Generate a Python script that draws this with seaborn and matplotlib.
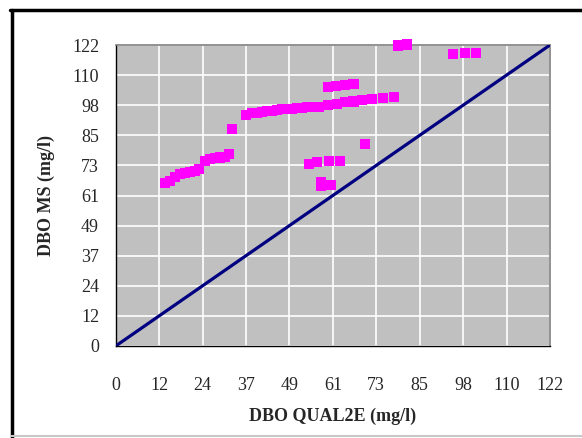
import numpy as np
import matplotlib
matplotlib.use("Agg")
import matplotlib.pyplot as plt
from matplotlib.lines import Line2D
import seaborn as sns
import pandas as pd

# DBO values: QUAL2E model (x) vs MS model (y), mg/l
qual2e = [13.9, 15.3, 16.7, 18.1, 19.5, 20.9, 22.3, 23.5,
          25.1, 26.5, 27.9, 29.3, 30.7, 31.9,
          32.8,
          36.5, 38.2, 39.6, 41.0, 42.4, 43.8, 45.2, 46.6, 48.0, 49.4,
          50.8, 52.2, 53.7, 54.6, 57.1, 59.7, 62.1, 64.4, 66.8, 69.1,
          71.9, 75.0, 78.2,
          59.7, 62.0, 64.3, 66.8,
          54.4, 56.6, 59.9, 63.0,
          57.6, 57.6, 60.5,
          70.0,
          79.4, 81.7,
          94.8, 98.1, 101.2]
ms = [65.9, 67.0, 68.6, 69.7, 70.3, 70.7, 71.1, 71.6,
      75.1, 75.7, 76.1, 76.4, 76.8, 77.8,
      87.8,
      93.6, 94.3, 94.6, 94.9, 95.1, 95.4, 95.7, 95.9, 96.1, 96.2,
      96.4, 96.6, 96.9, 97.0, 97.0, 97.6, 98.1, 98.8, 99.1, 99.7,
      100.0, 100.4, 100.9,
      104.9, 105.2, 105.6, 106.3,
      73.8, 74.5, 75.1, 75.1,
      66.4, 65.0, 65.3,
      81.8,
      121.8, 122.2,
      118.2, 118.9, 118.9]

# 1:1 reference line
line_x = [0, 122]
line_y = [0, 122]

tick_labels = ["0", "12", "24", "37", "49", "61", "73", "85", "98", "110", "122"]
axis_max = 122

sns.set_style("white")
plt.rcParams["font.family"] = ["Liberation Serif", "DejaVu Serif"]

W, H = 582, 438
fig = plt.figure(figsize=(W / 100, H / 100), dpi=100)
ax = fig.add_axes([115.7 / W, 1 - 346 / H, (550 - 115.7) / W, (346 - 45) / H])
ax.set_facecolor("#C0C0C0")

ticks = np.linspace(0, axis_max, len(tick_labels))
ax.set_xlim(0, axis_max)
ax.set_ylim(0, axis_max)
ax.set_xticks(ticks)
ax.set_yticks(ticks)
ax.set_xticklabels(tick_labels)
ax.set_yticklabels(tick_labels)
ax.grid(True, color="white", linewidth=1.2)
ax.set_axisbelow(True)

df = pd.DataFrame({"qual2e": qual2e, "ms": ms})
sns.lineplot(x=line_x, y=line_y, ax=ax, color="#000080", linewidth=2.3, zorder=3)
sns.scatterplot(data=df, x="qual2e", y="ms", ax=ax, marker="s", s=52,
                color="#FF00FF", edgecolor="none", linewidth=0, zorder=4,
                clip_on=False)

for side in ["top", "right"]:
    ax.spines[side].set_color("#808080")
    ax.spines[side].set_linewidth(1.2)
for side in ["left", "bottom"]:
    ax.spines[side].set_color("black")
    ax.spines[side].set_linewidth(1.0)

ax.tick_params(axis="both", direction="out", length=5, width=1, color="black",
               labelsize=13)
ax.tick_params(axis="x", pad=17)
ax.tick_params(axis="y", pad=7)

ax.set_xlabel("DBO QUAL2E (mg/l)", fontsize=13, fontweight="bold", labelpad=10)
ax.set_ylabel("DBO MS (mg/l)", fontsize=13, fontweight="bold", labelpad=12)

# chart frame
fig.add_artist(Line2D([11.5 / W, 11.5 / W], [0, 1 - 9.5 / H], transform=fig.transFigure,
                      color="black", linewidth=2.5))
fig.add_artist(Line2D([10 / W, 1], [1 - 9.5 / H, 1 - 9.5 / H], transform=fig.transFigure,
                      color="black", linewidth=2.5))
fig.add_artist(Line2D([11 / W, 1], [1 - 436 / H, 1 - 436 / H], transform=fig.transFigure,
                      color="#C8C8C8", linewidth=1.5))

fig.savefig("out.png", dpi=100)
